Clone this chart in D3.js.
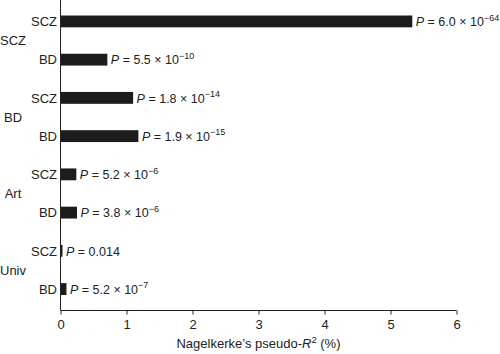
<!DOCTYPE html>
<html>
<head>
<meta charset="utf-8">
<script src="https://cdn.jsdelivr.net/npm/d3@7"></script>
<style>
  body { margin: 0; background: #fff; }
  text { font-family: "Liberation Sans", Arial, sans-serif; fill: #222; }
</style>
</head>
<body>
<script>
// data
const groups  = ["SCZ", "BD", "Art", "Univ"];
const rowGroup  = ["SCZ", "SCZ", "BD", "BD", "Art", "Art", "Univ", "Univ"];
const rowTarget = ["SCZ", "BD", "SCZ", "BD", "SCZ", "BD", "SCZ", "BD"];
const values    = [5.33, 0.71, 1.10, 1.18, 0.24, 0.25, 0.03, 0.09];
const pMant     = ["6.0", "5.5", "1.8", "1.9", "5.2", "3.8", "0.014", "5.2"];
const pExp      = ["\u221264", "\u221210", "\u221214", "\u221215", "\u22126", "\u22126", null, "\u22127"];
const xTicks    = [0, 1, 2, 3, 4, 5, 6];

const width = 500, height = 354;
const svg = d3.select("body").append("svg")
  .attr("width", width).attr("height", height);

const rows = values.map((v, i) => ({ i, group: rowGroup[i], target: rowTarget[i], value: v, mant: pMant[i], exp: pExp[i] }));

const x = d3.scaleLinear().domain([0, 6]).range([60.5, 456.5]);
const y = d3.scaleBand().domain(rows.map(d => d.i)).range([15.5, 295]).paddingInner(0.69).paddingOuter(0);

// bars
svg.append("g")
  .selectAll("rect")
  .data(rows)
  .join("rect")
  .attr("x", x(0))
  .attr("y", d => y(d.i))
  .attr("width", d => x(d.value) - x(0))
  .attr("height", y.bandwidth())
  .attr("fill", "#1c1c1c");

// P value labels
const pl = svg.append("g")
  .style("font-size", "12.5px")
  .selectAll("text")
  .data(rows)
  .join("text")
  .attr("x", d => x(d.value) + 3.5)
  .attr("y", d => y(d.i) + y.bandwidth() / 2)
  .attr("dy", "0.38em");
pl.append("tspan").attr("font-style", "italic").text("P");
pl.append("tspan").text(d => d.exp ? ` = ${d.mant} \u00d7 10` : ` = ${d.mant}`);
pl.filter(d => d.exp).append("tspan")
  .attr("dy", -5.5)
  .style("font-size", "9px")
  .text(d => d.exp);

// x axis
const xAxis = svg.append("g")
  .attr("transform", `translate(0,310.5)`)
  .call(d3.axisBottom(x).tickValues(xTicks).tickSize(4).tickPadding(5).tickFormat(d3.format("d")));
xAxis.select(".domain").attr("stroke", "#222").attr("d", `M${x(0)},0H${x(6)}`);
xAxis.selectAll(".tick line").attr("stroke", "#222");
xAxis.selectAll(".tick text").style("font-size", "13px").style("font-family", "Liberation Sans, Arial, sans-serif").attr("fill", "#222");

// y axis line
svg.append("line")
  .attr("x1", x(0)).attr("x2", x(0))
  .attr("y1", 0).attr("y2", 310.5)
  .attr("stroke", "#222");

// target labels
svg.append("g")
  .attr("text-anchor", "end")
  .style("font-size", "13px")
  .selectAll("text")
  .data(rows)
  .join("text")
  .attr("x", 57)
  .attr("y", d => y(d.i) + y.bandwidth() / 2)
  .attr("dy", "0.36em")
  .text(d => d.target);

// group labels
svg.append("g")
  .attr("text-anchor", "middle")
  .style("font-size", "13px")
  .selectAll("text")
  .data(groups)
  .join("text")
  .attr("x", 13)
  .attr("y", g => {
    const r = rows.filter(d => d.group === g);
    return (y(r[0].i) + y(r[1].i) + y.bandwidth()) / 2;
  })
  .attr("dy", "0.36em")
  .text(g => g);

// x axis title
const t = svg.append("text")
  .attr("x", (x(0) + x(6)) / 2)
  .attr("y", 348)
  .attr("text-anchor", "middle")
  .style("font-size", "13px");
t.append("tspan").text("Nagelkerke\u2019s pseudo-");
t.append("tspan").attr("font-style", "italic").text("R");
t.append("tspan").attr("dy", -5).style("font-size", "9.5px").text("2");
t.append("tspan").attr("dy", 5).text(" (%)");
</script>
</body>
</html>
